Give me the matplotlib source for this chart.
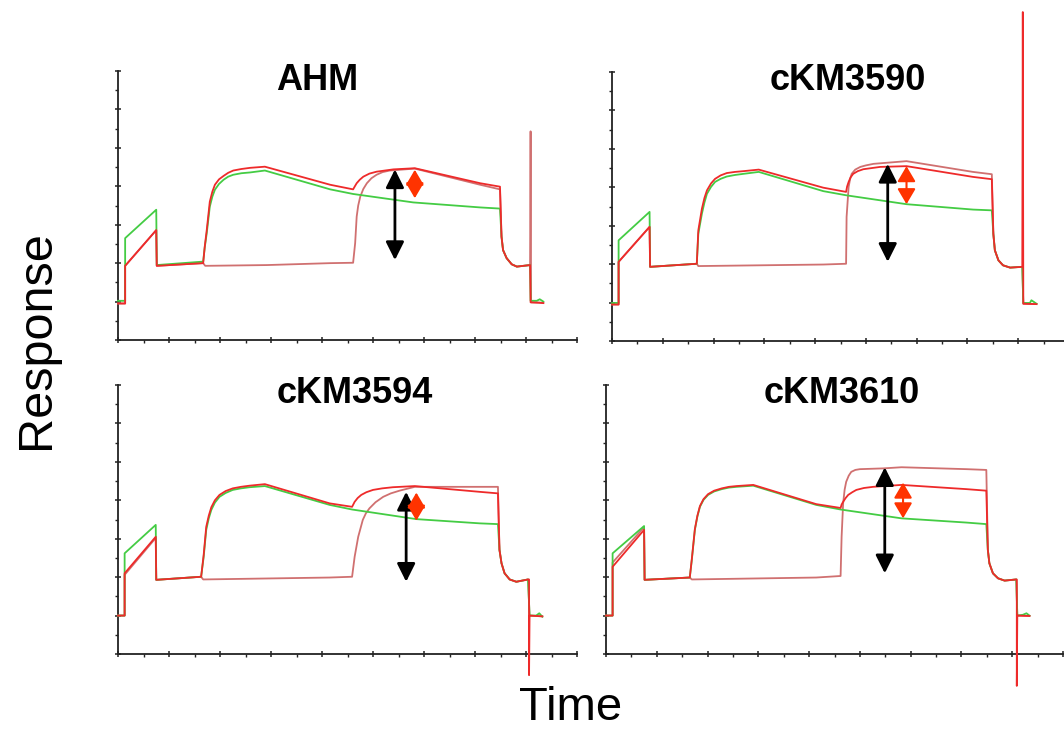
import matplotlib
matplotlib.use("Agg")
import matplotlib.pyplot as plt
from matplotlib.ticker import MultipleLocator

plt.rcParams['font.family'] = ['Liberation Sans', 'DejaVu Sans']

# titles of the four panels
titles = ['AHM', 'cKM3590', 'cKM3594', 'cKM3610']

# ---- traces (x in major-tick units, y in major-tick units)
# AHM
ahm_green = [(0, 1.02), (0.14, 1.02), (0.14, 2.65), (0.75, 3.39), (0.76, 1.95), (1.67, 2.04),
             (1.70, 2.40), (1.74, 2.78), (1.80, 3.47), (1.85, 3.73), (1.90, 3.91), (1.98, 4.06),
             (2.07, 4.17), (2.16, 4.25), (2.26, 4.30), (2.42, 4.34), (2.59, 4.36), (2.88, 4.41),
             (4.16, 3.92), (4.61, 3.80), (5.79, 3.58), (7.10, 3.45), (7.49, 3.42),
             (7.52, 2.69), (7.55, 2.34), (7.62, 2.13), (7.72, 1.97), (7.82, 1.91), (8.08, 1.95),
             (8.09, 1.02), (8.21, 1.02), (8.27, 1.06), (8.34, 1.00)]
ahm_red = [(0, 0.95), (0.14, 0.95), (0.14, 1.93), (0.75, 2.86), (0.76, 1.93), (1.67, 2.00),
           (1.70, 2.42), (1.74, 2.86), (1.80, 3.60), (1.85, 3.86), (1.90, 4.04), (1.98, 4.18),
           (2.07, 4.27), (2.16, 4.35), (2.26, 4.41), (2.42, 4.45), (2.59, 4.48), (2.88, 4.51),
           (4.16, 4.04), (4.61, 3.92), (4.64, 3.99), (4.68, 4.08), (4.74, 4.17), (4.81, 4.25),
           (4.93, 4.33), (5.07, 4.38), (5.40, 4.44), (5.82, 4.47), (7.10, 4.08), (7.49, 3.99),
           (7.52, 2.69), (7.55, 2.34), (7.62, 2.13), (7.72, 1.97), (7.82, 1.91), (8.08, 1.95),
           (8.09, 0.98), (8.25, 0.97), (8.34, 0.96)]
ahm_dark = [(0, 0.95), (0.14, 0.95), (0.14, 1.93), (0.75, 2.86), (0.76, 1.93), (1.67, 2.00),
            (1.71, 1.93), (2.92, 1.95), (4.16, 2.00), (4.61, 2.01), (4.65, 2.52), (4.68, 3.21),
            (4.71, 3.50), (4.75, 3.73), (4.81, 3.93), (4.88, 4.08), (4.97, 4.21), (5.07, 4.30),
            (5.19, 4.37), (5.33, 4.41), (5.82, 4.46), (7.10, 4.04), (7.49, 3.92),
            (7.52, 2.69), (7.55, 2.34), (7.62, 2.13), (7.72, 1.97), (7.82, 1.91), (8.08, 1.95),
            (8.09, 5.43), (8.10, 0.98), (8.34, 0.97)]
# cKM3590
c90_green = [(0, 0.99), (0.13, 0.99), (0.13, 2.62), (0.74, 3.36), (0.75, 1.93), (1.67, 2.01),
             (1.70, 2.79), (1.77, 3.31), (1.82, 3.60), (1.87, 3.83), (1.95, 4.01), (2.03, 4.14),
             (2.14, 4.22), (2.26, 4.28), (2.42, 4.32), (2.59, 4.35), (2.89, 4.40),
             (4.16, 3.90), (4.62, 3.79), (5.80, 3.56), (7.11, 3.42), (7.48, 3.40),
             (7.51, 2.79), (7.54, 2.36), (7.61, 2.10), (7.70, 1.97), (7.84, 1.91), (8.08, 1.93),
             (8.10, 0.99), (8.23, 0.99), (8.26, 1.06), (8.36, 0.97)]
c90_red = [(0, 0.95), (0.13, 0.95), (0.13, 2.06), (0.74, 2.97), (0.75, 1.93), (1.67, 2.01),
           (1.70, 2.88), (1.77, 3.44), (1.82, 3.72), (1.87, 3.92), (1.95, 4.10), (2.03, 4.22),
           (2.14, 4.31), (2.26, 4.37), (2.42, 4.40), (2.59, 4.42), (2.89, 4.46),
           (4.16, 3.99), (4.61, 3.88), (4.63, 4.02), (4.66, 4.14), (4.70, 4.26), (4.75, 4.35),
           (4.84, 4.42), (4.95, 4.47), (5.28, 4.53), (5.80, 4.55), (7.11, 4.27), (7.48, 4.21),
           (7.51, 2.79), (7.54, 2.36), (7.61, 2.10), (7.70, 1.97), (7.84, 1.91), (8.08, 1.93),
           (8.09, 8.56), (8.10, 0.97), (8.36, 0.96)]
c90_dark = [(0, 0.95), (0.13, 0.95), (0.13, 2.06), (0.74, 2.97), (0.75, 1.93), (1.67, 2.01),
            (1.70, 1.95), (4.16, 1.99), (4.61, 2.01), (4.62, 3.23), (4.66, 4.01), (4.69, 4.22),
            (4.72, 4.35), (4.79, 4.46), (4.89, 4.53), (5.00, 4.57), (5.15, 4.61), (5.80, 4.68),
            (7.11, 4.40), (7.48, 4.34), (7.51, 2.79), (7.54, 2.36), (7.61, 2.10), (7.70, 1.97),
            (7.84, 1.91), (8.08, 1.93), (8.10, 0.97), (8.36, 0.96)]
# cKM3594
c94_green = [(0, 1.00), (0.13, 1.00), (0.13, 2.62), (0.74, 3.36), (0.75, 1.93), (1.63, 2.01),
             (1.68, 2.53), (1.73, 3.23), (1.78, 3.53), (1.83, 3.75), (1.90, 3.94), (1.99, 4.09),
             (2.11, 4.19), (2.25, 4.27), (2.41, 4.31), (2.58, 4.34), (2.88, 4.37),
             (4.15, 3.88), (4.59, 3.76), (5.85, 3.51), (7.09, 3.40), (7.45, 3.38),
             (7.48, 2.71), (7.52, 2.36), (7.58, 2.10), (7.68, 1.94), (7.81, 1.88), (8.04, 1.94),
             (8.07, 1.00), (8.20, 1.00), (8.26, 1.06), (8.32, 0.97)]
c94_red = [(0, 1.00), (0.13, 1.00), (0.13, 2.10), (0.74, 3.05), (0.75, 1.93), (1.63, 2.01),
           (1.68, 2.58), (1.73, 3.31), (1.78, 3.60), (1.83, 3.82), (1.90, 4.00), (1.99, 4.14),
           (2.11, 4.24), (2.25, 4.31), (2.41, 4.35), (2.58, 4.38), (2.88, 4.42),
           (4.15, 3.92), (4.59, 3.83), (4.64, 3.96), (4.70, 4.06), (4.77, 4.14), (4.87, 4.21),
           (5.00, 4.27), (5.18, 4.31), (5.39, 4.34), (5.82, 4.37), (7.09, 4.22), (7.45, 4.18),
           (7.48, 2.71), (7.52, 2.36), (7.58, 2.10), (7.68, 1.94), (7.81, 1.88), (8.04, 1.94),
           (8.06, 1.94), (8.06, -0.55), (8.07, 1.00), (8.32, 0.98)]
c94_dark = [(0, 1.00), (0.13, 1.00), (0.13, 2.06), (0.74, 3.02), (0.75, 1.93), (1.63, 2.01),
            (1.67, 1.94), (4.15, 1.99), (4.59, 2.01), (4.64, 2.53), (4.71, 3.05), (4.80, 3.49),
            (4.86, 3.66), (4.93, 3.79), (5.05, 3.95), (5.20, 4.09), (5.35, 4.18), (5.52, 4.25),
            (5.82, 4.35), (7.09, 4.35), (7.45, 4.35),
            (7.48, 2.71), (7.52, 2.36), (7.58, 2.10), (7.68, 1.94), (7.81, 1.88), (8.04, 1.94),
            (8.07, 1.00), (8.32, 0.98)]
# cKM3610
c10_green = [(0, 1.00), (0.13, 1.00), (0.13, 2.62), (0.75, 3.33), (0.76, 1.93), (1.65, 1.99),
             (1.69, 2.45), (1.75, 3.23), (1.80, 3.58), (1.85, 3.83), (1.92, 4.01), (2.01, 4.14),
             (2.13, 4.23), (2.28, 4.29), (2.42, 4.33), (2.57, 4.35), (2.90, 4.38),
             (4.14, 3.88), (4.62, 3.76), (5.82, 3.53), (7.10, 3.42), (7.49, 3.38),
             (7.52, 2.71), (7.55, 2.36), (7.62, 2.10), (7.72, 1.97), (7.85, 1.91), (8.08, 1.94),
             (8.10, 1.00), (8.21, 1.02), (8.28, 1.06), (8.34, 1.00)]
c10_red = [(0, 1.00), (0.13, 1.00), (0.13, 2.27), (0.75, 3.23), (0.76, 1.93), (1.65, 1.99),
           (1.69, 2.47), (1.75, 3.25), (1.80, 3.60), (1.85, 3.85), (1.92, 4.03), (2.01, 4.16),
           (2.13, 4.25), (2.28, 4.31), (2.42, 4.35), (2.57, 4.37), (2.90, 4.40),
           (4.14, 3.90), (4.62, 3.80), (4.64, 3.89), (4.67, 3.96), (4.72, 4.06), (4.77, 4.14),
           (4.85, 4.21), (4.93, 4.27), (5.08, 4.32), (5.26, 4.35), (5.82, 4.40), (7.10, 4.29),
           (7.49, 4.25), (7.52, 2.71), (7.55, 2.36), (7.62, 2.10), (7.72, 1.97), (7.85, 1.91),
           (8.08, 1.94), (8.09, 1.94), (8.09, -0.83), (8.10, 1.00), (8.34, 0.99)]
c10_dark = [(0, 1.00), (0.13, 1.00), (0.13, 2.38), (0.75, 3.30), (0.76, 1.93), (1.65, 1.99),
            (1.69, 1.94), (4.14, 1.99), (4.62, 2.03), (4.64, 3.05), (4.67, 3.92), (4.70, 4.28),
            (4.73, 4.48), (4.78, 4.64), (4.83, 4.74), (4.91, 4.79), (5.00, 4.81), (5.46, 4.83),
            (5.82, 4.86), (7.10, 4.81), (7.49, 4.79),
            (7.52, 2.71), (7.55, 2.36), (7.62, 2.10), (7.72, 1.97), (7.85, 1.91), (8.08, 1.94),
            (8.10, 1.00), (8.34, 0.99)]

green_traces = [ahm_green, c90_green, c94_green, c10_green]
red_traces = [ahm_red, c90_red, c94_red, c10_red]
dark_traces = [ahm_dark, c90_dark, c94_dark, c10_dark]

# arrows: (x, top, bottom)
black_arrows = [(5.43, 4.44, 2.08), (5.43, 4.61, 2.06), (5.65, 4.22, 1.88), (5.49, 4.86, 2.10)]
red_arrows = [(5.82, 4.43, 3.69), (5.80, 4.55, 3.56), (5.85, 4.20, 3.47), (5.85, 4.46, 3.53)]

W, H = 1064, 733
# axes boxes in pixels: left, top, right, bottom
boxes = [(118, 71, 577, 340), (612, 72, 1069, 341), (118, 385, 577, 654), (606, 385, 1063, 654)]
title_pos = [(317, 90), (848, 90), (355, 403), (842, 403)]

fig = plt.figure(figsize=(W / 100, H / 100), dpi=100)

for i in range(4):
    l, t, r, b = boxes[i]
    ax = fig.add_axes([l / W, 1 - b / H, (r - l) / W, (b - t) / H])
    ax.set_xlim(0, 9)
    ax.set_ylim(0, 7)
    for side in ['top', 'right']:
        ax.spines[side].set_visible(False)
    for side in ['left', 'bottom']:
        ax.spines[side].set_linewidth(1.3)
        ax.spines[side].set_color('#222222')
    ax.xaxis.set_major_locator(MultipleLocator(1))
    ax.xaxis.set_minor_locator(MultipleLocator(0.5))
    ax.yaxis.set_major_locator(MultipleLocator(1))
    ax.yaxis.set_minor_locator(MultipleLocator(0.5))
    ax.tick_params(which='major', direction='inout', length=5, width=1.1, color='#222222',
                   labelleft=False, labelbottom=False)
    ax.tick_params(which='minor', direction='out', length=2.5, width=1.0, color='#222222')
    ax.patch.set_alpha(0)

    dx, dy = zip(*dark_traces[i])
    ax.plot(dx, dy, color='#d07070', lw=1.3, clip_on=False, zorder=3)
    gx, gy = zip(*green_traces[i])
    ax.plot(gx, gy, color='#44cc44', lw=1.3, clip_on=False, zorder=4)
    rx, ry = zip(*red_traces[i])
    ax.plot(rx, ry, color='#ee2a2a', lw=1.3, clip_on=False, zorder=5)

    x, y0, y1 = black_arrows[i]
    ax.annotate('', xy=(x, y1), xytext=(x, y0),
                arrowprops=dict(arrowstyle='<|-|>,head_length=1.0,head_width=0.5',
                                mutation_scale=11, lw=2, color='black',
                                shrinkA=0, shrinkB=0), zorder=6)
    x, y0, y1 = red_arrows[i]
    ax.annotate('', xy=(x, y1), xytext=(x, y0),
                arrowprops=dict(arrowstyle='<|-|>,head_length=0.85,head_width=0.5',
                                mutation_scale=11, lw=1.5, color='#ff3300',
                                shrinkA=0, shrinkB=0), zorder=6)

    tx, ty = title_pos[i]
    fig.text(tx / W, 1 - ty / H, titles[i], ha='center', va='baseline',
             fontsize=26, fontweight='bold', color='black')

fig.text(37 / W, 1 - 340 / H, 'Response', rotation=90, ha='center', va='center', fontsize=35)
fig.text(571 / W, 1 - 708 / H, 'Time', ha='center', va='center', fontsize=34)

fig.savefig('out.png', dpi=100)
